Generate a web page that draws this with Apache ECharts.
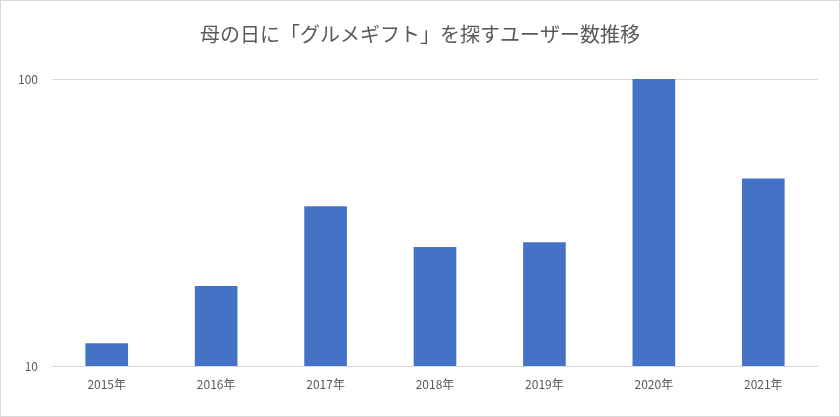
<!DOCTYPE html>
<html><head><meta charset="utf-8">
<script src="https://cdn.jsdelivr.net/npm/echarts@6/dist/echarts.min.js"></script>
<style>html,body{margin:0;padding:0;background:#fff}#c{width:840px;height:417px;box-sizing:border-box;border:1px solid #d9d9d9}</style>
</head><body><div id="c"></div>
<script>
const categories=['2015年','2016年','2017年','2018年','2019年','2020年','2021年'];
const values=[12,19,36,26,27,100,45];
const chart=echarts.init(document.getElementById('c'));
chart.setOption({
  animation:false,
  title:{text:'母の日に「グルメギフト」を探すユーザー数推移',left:'center',top:18,
    textStyle:{fontFamily:'Noto Sans CJK JP',fontSize:20,fontWeight:'normal',color:'#595959'}},
  grid:{left:51,right:21,top:78,bottom:50},
  xAxis:{type:'category',data:categories,axisTick:{show:false},
    axisLine:{lineStyle:{color:'#d9d9d9'}},
    axisLabel:{color:'#595959',fontSize:12,fontFamily:'Noto Sans CJK JP',margin:12}},
  yAxis:{type:'log',min:10,max:100,logBase:10,
    axisLine:{show:false},axisTick:{show:false},
    splitLine:{lineStyle:{color:'#d9d9d9'}},
    axisLabel:{color:'#595959',fontSize:12,fontFamily:'Noto Sans CJK JP',margin:14}},
  series:[{type:'bar',data:values,barWidth:'39%',itemStyle:{color:'#4472c4'}}]
});
</script></body></html>
